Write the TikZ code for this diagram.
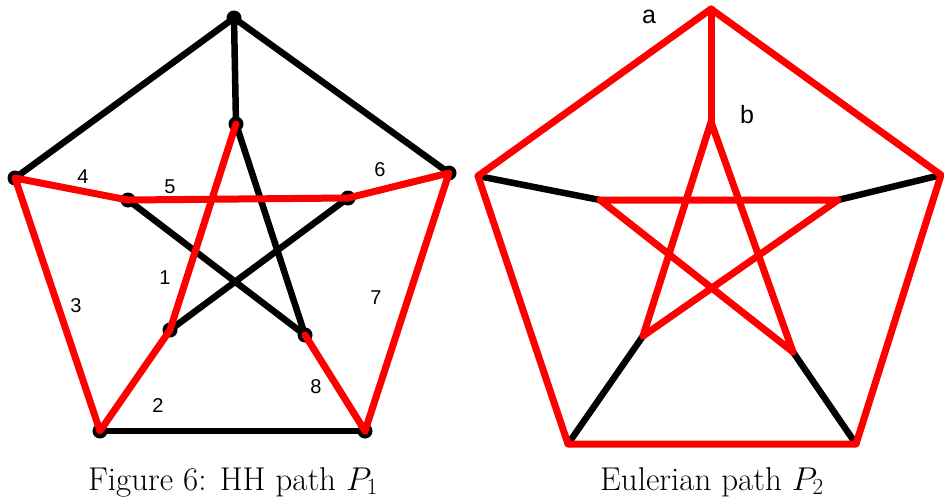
\RequirePackage{fix-cm}
\documentclass[tikz,border=0pt]{standalone}
\usepackage{fontspec}
\newfontfamily\tagfont{Liberation Sans}
\definecolor{pathred}{HTML}{FF0000}

\begin{document}
\begin{tikzpicture}[
    x=1pt, y=-1pt,
    edge/.style={
      draw=black,
      line width=6.5pt,
      line cap=round,
    },
    hh/.style={
      draw=pathred,
      line width=7pt,
      line cap=round,
      line join=round,
    },
    tag/.style={
      font=\tagfont\fontsize{#1}{#1}\selectfont,
      inner sep=0pt,
    },
    tag/.default=20,
    caption/.style={
      font=\fontsize{33}{40}\selectfont,
      anchor=base,
      inner sep=0pt,
    },
  ]

  \useasboundingbox (0,0) rectangle (944,499);

  % Left graph: vertices
  \coordinate (o1) at (234,18);
  \coordinate (o2) at (15,178);
  \coordinate (o3) at (100,431);
  \coordinate (o4) at (365,431);
  \coordinate (o5) at (449,173);
  \coordinate (i1) at (236,124);
  \coordinate (i2) at (128,200);
  \coordinate (i3) at (170,330);
  \coordinate (i4) at (305,335);
  \coordinate (i5) at (348,198);

  % Left graph: unused edges
  \foreach \a/\b in {o1/o2,o1/o5,o1/i1,o3/o4,i1/i4,i2/i4,i3/i5} {
    \draw[edge] (\a) -- (\b);
  }

  % Left graph: vertex dots
  \foreach \v in {o1,o2,o3,o4,o5,i1,i2,i3,i4,i5} {
    \fill (\v) circle[radius=7.5];
  }

  % Left graph: HH path
  \draw[hh] (i1) -- (i3) -- (o3) -- (o2) -- (i2) -- (i5) -- (o5) -- (o4) -- (i4);

  % Step numbers
  \foreach \n/\pos in {1/{(165,278)},2/{(158,406)},3/{(76,306)},4/{(83,177)},
                       5/{(170,187)},6/{(380,170)},7/{(376,298)},8/{(316,387)}} {
    \node[tag] (l\n) at \pos {\n};
  }

  % Right graph: vertices
  \coordinate (p1) at (711,9);
  \coordinate (p2) at (478,176);
  \coordinate (p3) at (568,444);
  \coordinate (p4) at (856,444);
  \coordinate (p5) at (941,175);
  \coordinate (q1) at (711,122);
  \coordinate (q2) at (600,200);
  \coordinate (q3) at (643,336);
  \coordinate (q4) at (793,352);
  \coordinate (q5) at (838,200);

  % Right graph: unused spokes
  \foreach \a/\b in {p2/q2,p3/q3,p4/q4,p5/q5} {
    \draw[edge] (\a) -- (\b);
  }

  % Right graph: Eulerian path
  \draw[hh] (p1) -- (p2) -- (p3) -- (p4) -- (p5) -- cycle;
  \draw[hh] (p1) -- (q1);
  \draw[hh] (q1) -- (q3) -- (q5) -- (q2) -- (q4) -- cycle;

  \node[tag=25] (la) at (649,17) {a};
  \node[tag=25] (lb) at (747,115) {b};

  % Captions
  \node[caption] (capL) at (233,490) {Figure 6: HH path $P_1$};
  \node[caption] (capR) at (712,490) {Eulerian path $P_2$};

\end{tikzpicture}
\end{document}
